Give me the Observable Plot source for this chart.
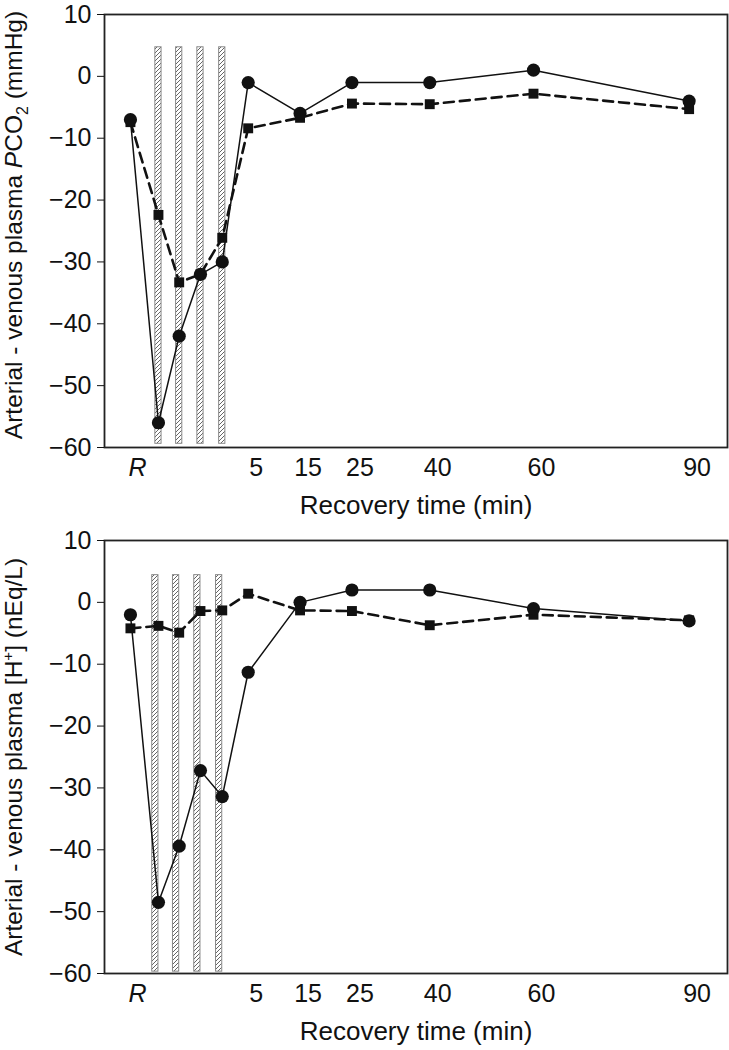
<!DOCTYPE html>
<html><head><meta charset="utf-8">
<script src="https://cdn.jsdelivr.net/npm/d3@7"></script>
<script src="https://cdn.jsdelivr.net/npm/@observablehq/plot@0.6"></script>
<style>
body{margin:0;background:#fff;}
#chart svg{display:block;}
</style>
</head><body><div id="chart"></div>
<script>
// Sampling positions on a minute-like axis (R = rest, four exercise bouts, then recovery)
const timePos = [-17.7, -12.3, -8.3, -4.2, 0, 5, 15, 25, 40, 60, 90];
const boutPos = [-12.3, -8.3, -4.2, 0];
const recoveryTicks = [5, 15, 25, 40, 60, 90];
const restTick = [-17.7];
const restLabel = "R";
const yTicks = [10, 0, -10, -20, -30, -40, -50, -60];

// Panel A: arterial - venous plasma PCO2 (mmHg)
const pco2Circle = [-7, -56, -42, -32, -30, -1, -6, -1, -1, 1, -4];
const pco2Square = [-7.4, -22.4, -33.3, -32, -26.1, -8.4, -6.7, -4.4, -4.5, -2.8, -5.3];
const pco2BarRange = [-59.4, 4.7];

// Panel B: arterial - venous plasma [H+] (nEq/L)
const hCircle = [-2, -48.5, -39.4, -27.2, -31.4, -11.3, 0, 2, 2, -1, -3];
const hSquare = [-4.2, -3.8, -4.9, -1.4, -1.3, 1.4, -1.3, -1.4, -3.7, -2, -2.9];
const hBarRange = [-59.7, 4.4];

const xTitle = "Recovery time (min)";
const yTitleA = "Arterial - venous plasma PCO2 (mmHg)";
const yTitleB = "Arterial - venous plasma [H+] (nEq/L)";

const FONT = "'Liberation Sans', Arial, Helvetica, sans-serif";

function panel({circles, squares, barRange, yTitle, marginTop, marginBottom, height, patternId, barShift, titleDy}) {
  const circ = timePos.map((x, i) => ({x, y: circles[i]}));
  const sq = timePos.map((x, i) => ({x, y: squares[i]}));
  const bw = 0.6;
  const svg = Plot.plot({
    width: 729,
    height,
    marginLeft: 104,
    marginRight: 2,
    marginTop,
    marginBottom,
    style: {fontFamily: FONT, fontSize: "25px", color: "#111", background: "#fff"},
    x: {domain: [-22.7, 97.4]},
    y: {domain: [-60, 10]},
    marks: [
      Plot.rect(boutPos, {x1: d => d + barShift - bw, x2: d => d + barShift + bw, y1: barRange[0], y2: barRange[1], fill: `url(#${patternId})`, stroke: "#8a8a8a", strokeWidth: 1}),
      Plot.line(sq, {x: "x", y: "y", stroke: "#111", strokeWidth: 2.6, strokeDasharray: "10,6"}),
      Plot.line(circ, {x: "x", y: "y", stroke: "#111", strokeWidth: 1.5}),
      Plot.dot(sq, {x: "x", y: "y", symbol: "square", r: 5.6, fill: "#111", stroke: "none"}),
      Plot.dot(circ, {x: "x", y: "y", r: 6.6, fill: "#111", stroke: "none"}),
      Plot.frame({stroke: "#222", strokeWidth: 1.8}),
      Plot.axisY({ticks: yTicks, tickSize: 7, tickPadding: 6, fontSize: 25, label: null}),
      Plot.axisX({ticks: recoveryTicks, tickSize: 0, tickPadding: 11, fontSize: 25, dx: 8, label: null}),
      Plot.axisX({ticks: restTick, tickFormat: () => restLabel, tickSize: 0, tickPadding: 11, fontSize: 25, fontStyle: "italic", dx: 7, label: null}),
      Plot.text([xTitle], {frameAnchor: "bottom", text: d => d, dy: 58, fontSize: 26, lineAnchor: "middle"}),
      Plot.text([yTitle], {frameAnchor: "left", text: d => d, rotate: -90, dx: -90, dy: titleDy, fontSize: 24.5, textAnchor: "middle", lineAnchor: "middle", className: "ytitle"})
    ]
  });
  // hatch pattern
  const defs = d3.select(svg).insert("defs", ":first-child");
  const pat = defs.append("pattern").attr("id", patternId).attr("patternUnits", "userSpaceOnUse")
    .attr("width", 4).attr("height", 4);
  pat.append("rect").attr("width", 4).attr("height", 4).attr("fill", "#fff");
  pat.append("path").attr("d", "M-1,1 L1,-1 M0,4 L4,0 M3,5 L5,3").attr("stroke", "#555").attr("stroke-width", 0.9);
  return svg;
}

const svgA = panel({circles: pco2Circle, squares: pco2Square, barRange: pco2BarRange, yTitle: yTitleA,
  marginTop: 14, marginBottom: 78, height: 525, patternId: "hatchA", barShift: 0, titleDy: -6});
const svgB = panel({circles: hCircle, squares: hSquare, barRange: hBarRange, yTitle: yTitleB,
  marginTop: 15, marginBottom: 77, height: 525, patternId: "hatchB", barShift: -0.6, titleDy: 0});

// rich formatting of y titles (italic P, subscript 2, superscript +)
d3.select(svgA).selectAll(".ytitle text").each(function() {
  const t = d3.select(this); t.text(null);
  t.append("tspan").text("Arterial - venous plasma ");
  t.append("tspan").attr("font-style", "italic").text("P");
  t.append("tspan").text("CO");
  t.append("tspan").attr("dy", 6).attr("font-size", 16).text("2");
  t.append("tspan").attr("dy", -6).text(" (mmHg)");
});
d3.select(svgB).selectAll(".ytitle text").each(function() {
  const t = d3.select(this); t.text(null);
  t.append("tspan").text("Arterial - venous plasma [H");
  t.append("tspan").attr("dy", -9).attr("font-size", 15).text("+");
  t.append("tspan").attr("dy", 9).text("] (nEq/L)");
});

document.getElementById("chart").append(svgA, svgB);
</script>
</body></html>
